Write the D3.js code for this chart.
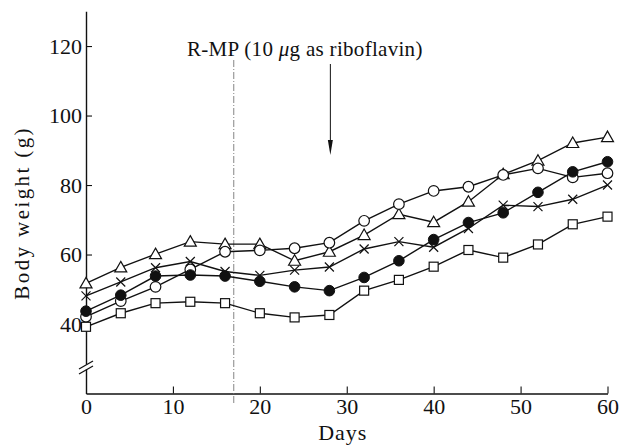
<!DOCTYPE html>
<html>
<head>
<meta charset="utf-8">
<script src="https://cdn.jsdelivr.net/npm/d3@7"></script>
<style>
  body { margin: 0; background: #fff; }
  text { font-family: "Liberation Serif", "DejaVu Serif", serif; fill: #111; }
</style>
</head>
<body>
<script>
"use strict";
// days of measurement
let days = [0, 4, 8, 12, 16, 20, 24, 28, 32, 36, 40, 44, 48, 52, 56, 60];
// body weight (g) per group
let triangleGroup = [51.7, 56.3, 60.1, 63.7, 63.0, 63.0, 58.2, 60.8, 65.6, 71.6, 69.3, 75.2, 83.1, 87.0, 92.1, 93.8];
let circleGroup   = [42.1, 46.6, 50.7, 55.7, 60.8, 61.2, 61.8, 63.4, 69.7, 74.5, 78.3, 79.5, 82.9, 84.8, 82.2, 83.4];
let crossGroup    = [48.1, 52.1, 56.2, 58.0, 55.1, 54.0, 55.5, 56.4, 61.6, 63.7, 62.1, 67.5, 74.2, 73.8, 75.9, 80.0];
let filledGroup   = [43.7, 48.3, 53.8, 54.1, 53.8, 52.3, 50.7, 49.6, 53.4, 58.2, 64.3, 69.2, 72.0, 77.9, 83.8, 86.7];
let squareGroup   = [39.2, 43.1, 46.0, 46.4, 46.0, 43.1, 41.9, 42.6, 49.6, 52.7, 56.5, 61.3, 59.1, 62.9, 68.7, 70.9];
let xTicks = [0, 10, 20, 30, 40, 50, 60];
let yTicks = [40, 60, 80, 100, 120];
let startDay = 17;   // dash-dot line
let arrowDay = 28;   // R-MP arrow

let series = [
  {name: "triangle", values: triangleGroup},
  {name: "circle", values: circleGroup},
  {name: "cross", values: crossGroup},
  {name: "filled", values: filledGroup},
  {name: "square", values: squareGroup}
];

let svg = d3.select("body").append("svg")
  .attr("width", 623)
  .attr("height", 446);

let x = d3.scaleLinear().domain([0, 60]).range([86, 607.5]);
let y = d3.scaleLinear().domain([20, 130]).range([393.5, 11.3]);

// axes
let xAxis = svg.append("g")
  .attr("transform", `translate(0,${y(20)})`)
  .call(d3.axisBottom(x).tickValues(xTicks).tickSize(-7).tickPadding(5).tickSizeOuter(0));
xAxis.select(".domain").attr("stroke", "#111").attr("stroke-width", 1.4);
xAxis.selectAll(".tick line").attr("stroke", "#111").attr("stroke-width", 1.1);
xAxis.selectAll(".tick").filter(d => d === 0).select("line").remove();
xAxis.selectAll("text").attr("font-size", 22).attr("font-family", "Liberation Serif").attr("fill", "#111");

let yAxis = svg.append("g")
  .attr("transform", `translate(${x(0)},0)`)
  .call(d3.axisLeft(y).tickValues(yTicks).tickSize(-6).tickPadding(4).tickSizeOuter(0));
yAxis.select(".domain").attr("stroke", "#111").attr("stroke-width", 1.4);
yAxis.selectAll(".tick line").attr("stroke", "#111").attr("stroke-width", 1.1);
yAxis.selectAll("text").attr("font-size", 22).attr("font-family", "Liberation Serif").attr("fill", "#111");

// axis break marks
let breakY = y(27.5);
svg.append("rect")
  .attr("x", x(0) - 3).attr("y", breakY - 3)
  .attr("width", 6).attr("height", 5)
  .attr("fill", "#fff");
[-2.5, 2.5].forEach(off => {
  svg.append("line")
    .attr("x1", x(0) - 7).attr("y1", breakY + off + 4)
    .attr("x2", x(0) + 7).attr("y2", breakY + off - 4)
    .attr("stroke", "#111").attr("stroke-width", 1.3);
});

// axis titles
svg.append("text")
  .attr("x", x(30) - 4).attr("y", 440)
  .attr("text-anchor", "middle")
  .attr("font-size", 22)
  .attr("letter-spacing", 1)
  .text("Days");

svg.append("text")
  .attr("transform", `translate(29,${y(72)}) rotate(-90)`)
  .attr("text-anchor", "middle")
  .attr("font-size", 21)
  .attr("letter-spacing", 2.4)
  .text("Body weight (g)");

// dash-dot line at start of R-MP
svg.append("line")
  .attr("x1", x(startDay)).attr("x2", x(startDay))
  .attr("y1", 60).attr("y2", 405)
  .attr("stroke", "#777")
  .attr("stroke-width", 0.9)
  .attr("stroke-dasharray", "7,2,1,2");

// annotation
let note = svg.append("text")
  .attr("x", 187).attr("y", 56)
  .attr("font-size", 21)
  .attr("letter-spacing", 0.3);
note.append("tspan").text("R-MP (10 ");
note.append("tspan").attr("font-style", "italic").text("\u03bc");
note.append("tspan").text("g  as  riboflavin)");

svg.append("line")
  .attr("x1", x(arrowDay) + 1).attr("x2", x(arrowDay) + 1)
  .attr("y1", 64).attr("y2", 146)
  .attr("stroke", "#111").attr("stroke-width", 1);
svg.append("path")
  .attr("d", `M${x(arrowDay) - 1.5},140 L${x(arrowDay) + 3.5},140 L${x(arrowDay) + 1},155 Z`)
  .attr("fill", "#111");

// lines
let line = d3.line()
  .x((d, i) => x(days[i]))
  .y(d => y(d));

svg.append("g").selectAll("path")
  .data(series)
  .enter()
  .append("path")
  .attr("d", d => line(d.values))
  .attr("fill", "none")
  .attr("stroke", "#111")
  .attr("stroke-width", 1.4);

// markers
let marks = svg.append("g");
series.forEach(s => {
  let g = marks.selectAll(null)
    .data(s.values)
    .enter()
    .append("g")
    .attr("transform", (d, i) => `translate(${x(days[i])},${y(d)})`);
  if (s.name === "triangle") {
    g.append("path").attr("d", "M0,-6 L6,4.5 L-6,4.5 Z")
      .attr("fill", "#fff").attr("stroke", "#111").attr("stroke-width", 1.2);
  } else if (s.name === "circle") {
    g.append("circle").attr("r", 5.3)
      .attr("fill", "#fff").attr("stroke", "#111").attr("stroke-width", 1.2);
  } else if (s.name === "filled") {
    g.append("circle").attr("r", 5.3)
      .attr("fill", "#111").attr("stroke", "#111").attr("stroke-width", 1);
  } else if (s.name === "square") {
    g.append("rect").attr("x", -4.5).attr("y", -4.5).attr("width", 9).attr("height", 9)
      .attr("fill", "#fff").attr("stroke", "#111").attr("stroke-width", 1.2);
  } else {
    g.append("path").attr("d", "M-4.5,-4.5 L4.5,4.5 M-4.5,4.5 L4.5,-4.5")
      .attr("stroke", "#111").attr("stroke-width", 1.2);
  }
});
</script>
</body>
</html>
